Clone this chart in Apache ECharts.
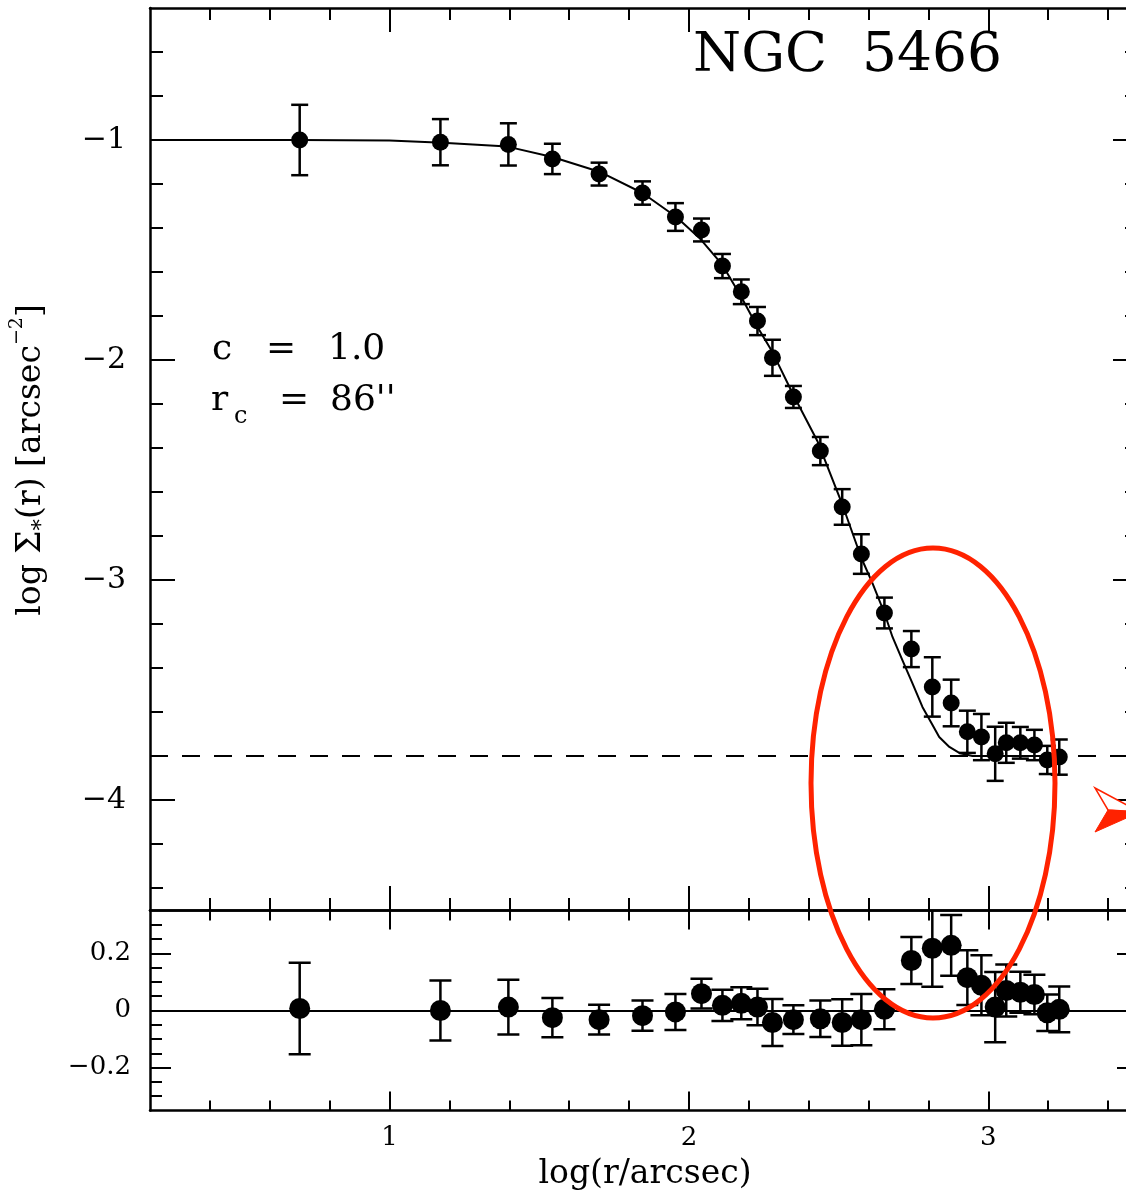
<!DOCTYPE html>
<html><head><meta charset="utf-8">
<script src="https://cdn.jsdelivr.net/npm/echarts@6/dist/echarts.min.js"></script>
<style>html,body{margin:0;padding:0;overflow:hidden;background:#fff}#c{width:1160px;height:1192px}</style>
</head><body><div id="c"></div><script>
// ---- data ----
const logR = [0.70,1.17,1.397,1.544,1.70,1.845,1.955,2.042,2.112,2.175,2.229,2.279,2.349,2.439,2.512,2.576,2.653,2.743,2.813,2.876,2.93,2.977,3.023,3.06,3.107,3.154,3.197,3.237];
const logSigma = [-1.00,-1.01,-1.02,-1.086,-1.155,-1.241,-1.35,-1.409,-1.573,-1.69,-1.823,-1.99,-2.168,-2.414,-2.668,-2.882,-3.15,-3.314,-3.486,-3.559,-3.69,-3.714,-3.79,-3.74,-3.74,-3.75,-3.818,-3.805];
const residual = [0.007,0.0,0.012,-0.025,-0.032,-0.018,-0.005,0.059,0.018,0.025,0.012,-0.042,-0.032,-0.029,-0.042,-0.032,0.004,0.175,0.218,0.228,0.115,0.088,0.012,0.07,0.064,0.056,-0.008,0.004];
const errors = [0.16,0.105,0.096,0.069,0.052,0.053,0.063,0.052,0.055,0.056,0.064,0.082,0.05,0.064,0.081,0.09,0.07,0.082,0.135,0.106,0.096,0.105,0.123,0.091,0.072,0.069,0.064,0.08];
const modelX = [0.2,0.70,1.0,1.177,1.394,1.544,1.701,1.845,1.958,2.035,2.112,2.175,2.229,2.279,2.349,2.429,2.513,2.576,2.613,2.653,2.680,2.713,2.746,2.780,2.810,2.836,2.870,2.903,2.947,2.993,3.237];
const modelY = [-1.0,-1.0,-1.002,-1.012,-1.030,-1.077,-1.144,-1.241,-1.35,-1.445,-1.568,-1.714,-1.85,-1.964,-2.159,-2.368,-2.659,-2.9,-3.014,-3.150,-3.259,-3.364,-3.468,-3.577,-3.650,-3.714,-3.759,-3.786,-3.800,-3.80,-3.80];
const background = -3.8;
const xRange = [0.2, 3.5];
const topRange = [-4.5, -0.4];
const botRange = [-0.35, 0.35];
const xMajor = [1,2,3];
const xMinor = [0.4,0.6,0.8,1.2,1.4,1.6,1.8,2.2,2.4,2.6,2.8,3.2,3.4];
const topMajor = [-4,-3,-2,-1];
const topMinor = [-4.4,-4.2,-3.8,-3.6,-3.4,-3.2,-2.8,-2.6,-2.4,-2.2,-1.8,-1.6,-1.4,-1.2,-0.8,-0.6];
const botMajor = [-0.2,0,0.2];
const botMinor = [-0.3,-0.25,-0.15,-0.1,-0.05,0.05,0.1,0.15,0.25,0.3];
const titleText = 'NGC  5466';

const FONT = 'DejaVu Serif';
const fmt = v => (v < 0 ? '\u2212' + String(Math.abs(v)) : String(v));

function mkAxis(grid, pos, range, ticks, len, line, label) {
  return {
    type: 'value', gridIndex: grid, position: pos, min: range[0], max: range[1],
    axisLine: {show: line, onZero: false, lineStyle: {color: '#000', width: 2.5}},
    axisTick: {show: true, inside: true, length: len, customValues: ticks, lineStyle: {color: '#000', width: 2}},
    axisLabel: label ? Object.assign({show: true, customValues: ticks, formatter: fmt, color: '#000', fontFamily: FONT}, label) : {show: false},
    splitLine: {show: false}
  };
}
const xAxes = [
  mkAxis(0,'bottom',xRange,xMajor,24,true,null),
  mkAxis(0,'bottom',xRange,xMinor,12,false,null),
  mkAxis(0,'top',xRange,xMajor,24,true,null),
  mkAxis(0,'top',xRange,xMinor,12,false,null),
  mkAxis(1,'bottom',xRange,xMajor,19,true,{fontSize:26, margin:15}),
  mkAxis(1,'bottom',xRange,xMinor,10,false,null),
  mkAxis(1,'top',xRange,xMajor,19,true,null),
  mkAxis(1,'top',xRange,xMinor,10,false,null)
];
const yAxes = [
  mkAxis(0,'left',topRange,topMajor,25,true,{fontSize:30, margin:24}),
  mkAxis(0,'left',topRange,topMinor,13,false,null),
  mkAxis(0,'right',topRange,topMajor,25,true,null),
  mkAxis(0,'right',topRange,topMinor,13,false,null),
  mkAxis(1,'left',botRange,botMajor,21,true,{fontSize:26, margin:19}),
  mkAxis(1,'left',botRange,botMinor,12,false,null),
  mkAxis(1,'right',botRange,botMajor,21,true,null),
  mkAxis(1,'right',botRange,botMinor,12,false,null)
];

function errSeries(xi, yi, vals, cap, lw) {
  return {
    type: 'custom', xAxisIndex: xi, yAxisIndex: yi, clip: true, z: 3,
    data: logR.map((x, i) => [x, vals[i] - errors[i], vals[i] + errors[i]]),
    encode: {x: 0, y: [1, 2]},
    renderItem: function (params, api) {
      const x = api.value(0);
      const lo = api.coord([x, api.value(1)]);
      const hi = api.coord([x, api.value(2)]);
      const h = cap / 2, st = {stroke: '#000', lineWidth: lw};
      return {type: 'group', children: [
        {type: 'line', shape: {x1: lo[0], y1: lo[1], x2: hi[0], y2: hi[1]}, style: st},
        {type: 'line', shape: {x1: lo[0]-h, y1: lo[1], x2: lo[0]+h, y2: lo[1]}, style: st},
        {type: 'line', shape: {x1: hi[0]-h, y1: hi[1], x2: hi[0]+h, y2: hi[1]}, style: st}
      ]};
    }
  };
}

const chart = echarts.init(document.getElementById('c'), null, {renderer: 'canvas'});
const red = '#ff2200';
const txt = (x, y, text, size, extra) => Object.assign({type: 'text', x: x, y: y, z: 10,
  style: {text: text, fontFamily: FONT, fontSize: size, fill: '#000', align: 'left', verticalAlign: 'middle'}}, extra || {});
chart.setOption({
  animation: false,
  backgroundColor: '#fff',
  grid: [
    {left: 150, top: 8, width: 988, height: 902},
    {left: 150, top: 910.5, width: 988, height: 200}
  ],
  xAxis: xAxes,
  yAxis: yAxes,
  series: [
    {type: 'line', xAxisIndex: 0, yAxisIndex: 0, data: modelX.map((x, i) => [x, modelY[i]]),
     showSymbol: false, smooth: false, lineStyle: {color: '#000', width: 2}, z: 2,
     markLine: {silent: true, symbol: 'none', label: {show: false},
       lineStyle: {color: '#000', width: 2, type: [18, 14]}, data: [{yAxis: background}]}},
    errSeries(0, 0, logSigma, 17, 2.5),
    {type: 'scatter', xAxisIndex: 0, yAxisIndex: 0, symbol: 'circle', symbolSize: 17, z: 4,
     itemStyle: {color: '#000', opacity: 1}, data: logR.map((x, i) => [x, logSigma[i]])},
    {type: 'line', xAxisIndex: 4, yAxisIndex: 4, data: [],
     markLine: {silent: true, symbol: 'none', label: {show: false},
       lineStyle: {color: '#000', width: 2, type: 'solid'}, data: [{yAxis: 0}]}},
    errSeries(4, 4, residual, 22, 2.5),
    {type: 'scatter', xAxisIndex: 4, yAxisIndex: 4, symbol: 'circle', symbolSize: 21, z: 4,
     itemStyle: {color: '#000', opacity: 1}, data: logR.map((x, i) => [x, residual[i]])}
  ],
  graphic: [
    txt(693, 57, titleText, 55),
    txt(212, 350, 'c', 36),
    txt(266, 350, '=', 36),
    txt(328, 350, '1.0', 36),
    txt(211, 401, 'r', 36),
    txt(234, 417, 'c', 24),
    txt(279, 401, '=', 36),
    txt(330, 401, "86''", 36),
    {type: 'text', x: 31, y: 460, rotation: Math.PI / 2, z: 10, style: {
      text: '{n|log \u03A3}{s|*}{n|(r) [arcsec}{p|\u22122}{n|]}', align: 'center', verticalAlign: 'middle',
      rich: {
        n: {fontFamily: FONT, fontSize: 33, fill: '#000', lineHeight: 46, verticalAlign: 'middle'},
        s: {fontFamily: FONT, fontSize: 23, fill: '#000', lineHeight: 46, verticalAlign: 'bottom'},
        p: {fontFamily: FONT, fontSize: 19, fill: '#000', lineHeight: 46, verticalAlign: 'top'}
      }}},
    txt(645, 1174, 'log(r/arcsec)', 33, {style: {text: 'log(r/arcsec)', fontFamily: FONT, fontSize: 33, fill: '#000', align: 'center', verticalAlign: 'middle'}}),
    {type: 'ellipse', z: 20, shape: {cx: 933, cy: 783, rx: 122, ry: 235}, style: {fill: 'none', stroke: red, lineWidth: 5}},
    {type: 'polygon', z: 20, shape: {points: [[1095,788],[1140,812],[1108,810]]}, style: {fill: '#fff', stroke: red, lineWidth: 1.5}},
    {type: 'polygon', z: 20, shape: {points: [[1108,810],[1140,812],[1095,832]]}, style: {fill: red, stroke: red, lineWidth: 1}}
  ]
});
</script></body></html>
